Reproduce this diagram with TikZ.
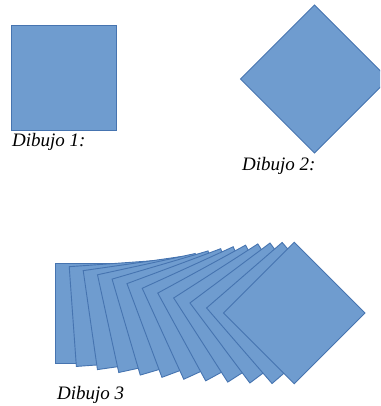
\documentclass[tikz,border=0pt]{standalone}
\usepackage{fontspec}
\setmainfont{Liberation Serif}
\definecolor{sqfill}{RGB}{111,156,207}
\definecolor{sqline}{RGB}{70,116,176}
\begin{document}
\begin{tikzpicture}[x=1pt,y=-1pt,
  sq/.style={fill=sqfill,draw=sqline,line width=0.9pt,line join=miter},
  lbl/.style={font=\fontsize{19}{21}\selectfont\itshape,anchor=base west,inner sep=0pt}]
\useasboundingbox (0,0) rectangle (380,406);
\clip (0,0) rectangle (380,406);
% Dibujo 1
\draw[sq] (11,25) -- (116,25) -- (116,130) -- (11,130) -- cycle;
\node[lbl] (l1) at (12,146.5) {Dibujo 1:};
% Dibujo 2
\draw[sq] (314.5,5) -- (388.5,79) -- (314.5,153) -- (240.5,79) -- cycle;
\node[lbl] (l2) at (242,170) {Dibujo 2:};
% Dibujo 3
\foreach \i in {0,...,11}{
  \pgfmathsetmacro\cx{105.5+17.16*\i}
  \pgfmathsetmacro\ang{45*\i/11}
  \draw[sq,shift={(\cx,313)},rotate=\ang] (-50,-50) -- (50,-50) -- (50,50) -- (-50,50) -- cycle;
}
\node[lbl] (l3) at (57,399) {Dibujo 3};
\end{tikzpicture}
\end{document}
